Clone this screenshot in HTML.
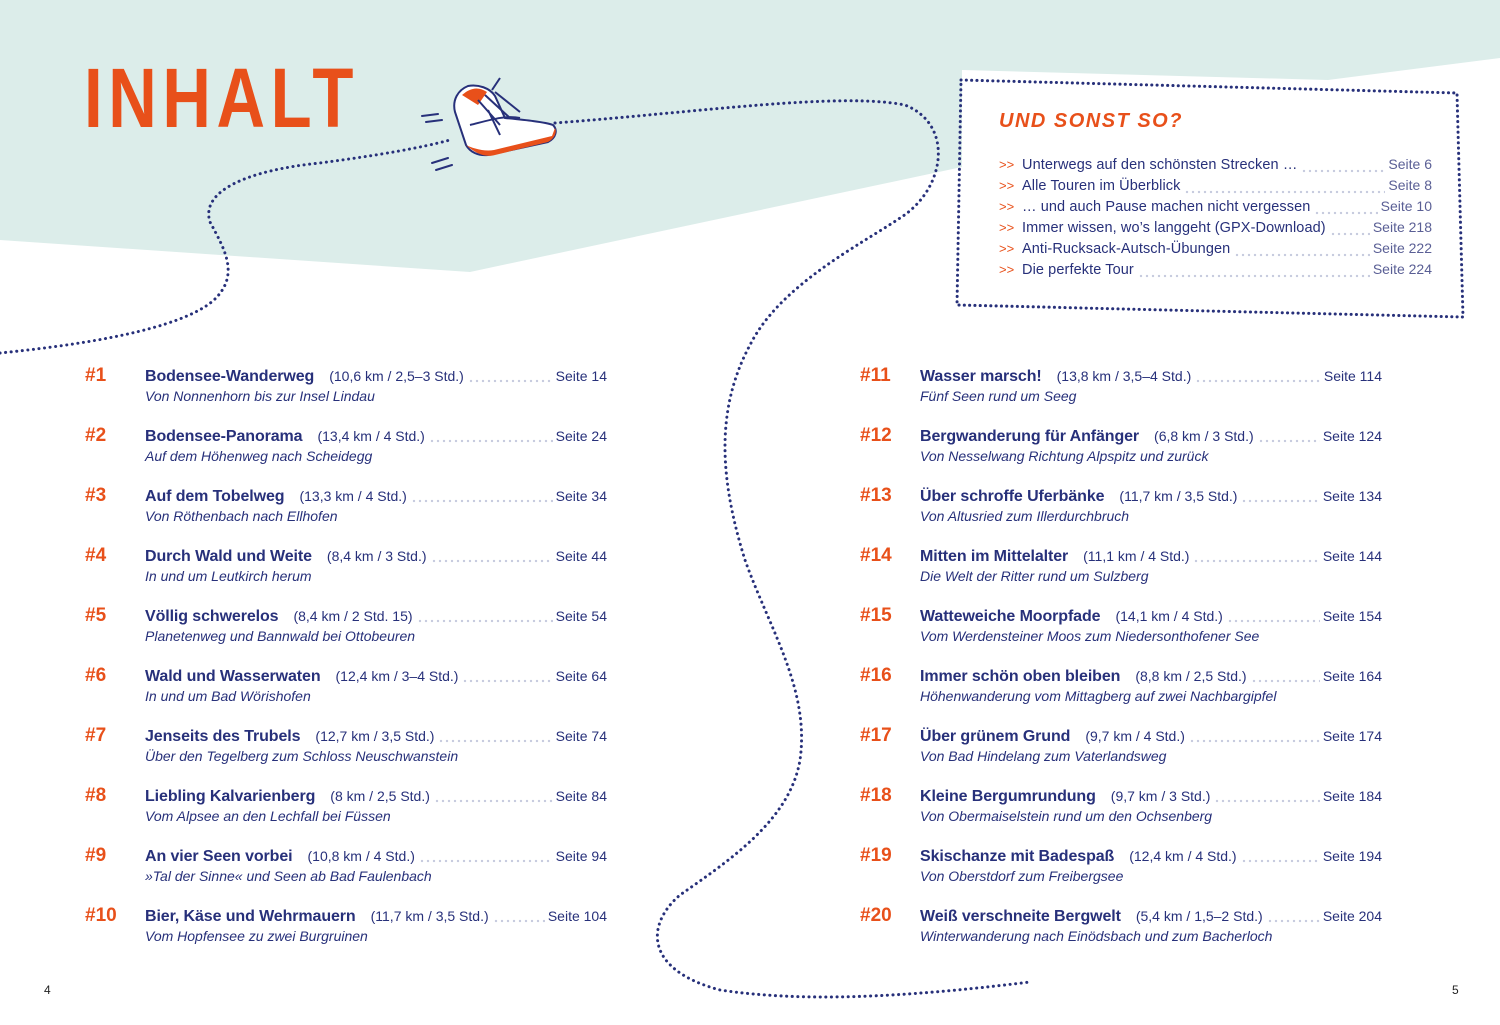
<!DOCTYPE html>
<html><head><meta charset="utf-8"><style>
*{margin:0;padding:0;box-sizing:border-box}
body{width:1500px;height:1025px;position:relative;overflow:hidden;background:#fff;font-family:"Liberation Sans",sans-serif;color:#27307a}
svg.bg{position:absolute;left:0;top:0}
.title{position:absolute;left:84px;top:48px;font-size:84px;font-weight:bold;color:#e8501a;letter-spacing:7px;transform:scaleX(0.8);transform-origin:left top;line-height:100px}
.r{position:absolute;width:522px}
.l{display:flex;align-items:baseline;height:22px;white-space:nowrap}
.n{width:60px;font-weight:bold;font-size:19px;color:#e8501a}
.t{font-size:16px;color:#27307a;font-weight:bold;letter-spacing:-0.1px}
.d{font-size:14px;margin-left:15px;color:#27307a}
.f{flex:1;height:4px;align-self:flex-end;margin:0 3px 4px 4px;background:radial-gradient(circle,#c3c8dc 0.9px,transparent 1.4px) 0 0/6px 4px repeat-x}
.s{font-size:14px;color:#27307a}
.sub{margin-left:60px;font-size:14px;font-style:italic;color:#27307a;margin-top:1px}
.b{position:absolute;left:999px;width:433px;display:flex;align-items:baseline;white-space:nowrap;font-size:14.5px;height:21px}
.b .c{color:#e8501a;width:23px;font-size:13px}
.b .t{font-size:14.5px;font-weight:normal;letter-spacing:0.1px}
.b .s{color:#5a5f95}
.h{position:absolute;left:999px;top:110px;font-size:20px;font-style:italic;font-weight:bold;color:#e8501a;letter-spacing:1.5px}
.pg{position:absolute;top:983px;font-size:12px;color:#222}
</style></head><body>
<svg class="bg" width="1500" height="1025">
<polygon points="0,0 1500,0 1500,58 1328,80 962,70 962,167 470,272 0,240" fill="#dcedea"/>
<path d="M0,353 C80,345 180,330 214,300 C240,275 225,250 210,222 C200,190 250,170 320,163 C380,155 420,148 450,140" fill="none" stroke="#27307a" stroke-width="3" stroke-dasharray="0.1 5.5" stroke-linecap="round"/>
<path d="M555,123 C700,112 840,92 905,105 C955,125 945,190 900,218 C860,245 780,285 750,345 C715,410 720,480 745,560 C770,630 810,690 800,760 C790,820 730,860 680,895 C645,925 645,970 720,990 C800,1002 900,998 1030,982" fill="none" stroke="#27307a" stroke-width="3" stroke-dasharray="0.1 5.5" stroke-linecap="round"/>
<path d="M961,80 L1457,93 L1463,317 L957,305 Z" fill="none" stroke="#27307a" stroke-width="3" stroke-dasharray="0.1 5.2" stroke-linecap="round"/>
<g stroke="#27307a" stroke-width="2" fill="none" stroke-linecap="round">
<path d="M422,116 L438,114 M426,122 L442,120 M432,163 L448,158 M436,170 L452,165"/>
</g>
<g>
<path d="M455,112 C452,100 458,90 468,86 C478,84 490,88 495,96 L505,118 C525,120 545,122 553,125 C558,130 556,138 548,142 L488,155 C478,156 470,152 466,145 Z" fill="#fff" stroke="#27307a" stroke-width="2"/>
<path d="M466,145 C475,153 485,158 495,155 L548,142 C555,138 557,132 555,128 L552,136 L494,150 C484,152 472,148 466,145 Z" fill="#e8501a"/>
<path d="M462,95 C470,88 478,86 487,92 L478,105 Z" fill="#e8501a"/>
<path d="M478,100 L500,125 M485,95 L510,118 M492,90 L500,78 M495,92 L520,112 M488,110 L500,135 M470,125 C490,120 505,115 520,118" stroke="#27307a" stroke-width="2" fill="none"/>
</g>
</svg>
<div class="title">INHALT</div>
<div class="h">UND SONST SO?</div>
<div class="b" style="top:156px"><span class="c">&gt;&gt;</span><span class="t">Unterwegs auf den schönsten Strecken …</span><span class="f"></span><span class="s">Seite 6</span></div>
<div class="b" style="top:177px"><span class="c">&gt;&gt;</span><span class="t">Alle Touren im Überblick</span><span class="f"></span><span class="s">Seite 8</span></div>
<div class="b" style="top:198px"><span class="c">&gt;&gt;</span><span class="t">… und auch Pause machen nicht vergessen</span><span class="f"></span><span class="s">Seite 10</span></div>
<div class="b" style="top:219px"><span class="c">&gt;&gt;</span><span class="t">Immer wissen, wo’s langgeht (GPX-Download)</span><span class="f"></span><span class="s">Seite 218</span></div>
<div class="b" style="top:240px"><span class="c">&gt;&gt;</span><span class="t">Anti-Rucksack-Autsch-Übungen</span><span class="f"></span><span class="s">Seite 222</span></div>
<div class="b" style="top:261px"><span class="c">&gt;&gt;</span><span class="t">Die perfekte Tour</span><span class="f"></span><span class="s">Seite 224</span></div>

<div class="r" style="left:85px;top:365px"><div class="l"><span class="n">#1</span><span class="t">Bodensee-Wanderweg</span><span class="d">(10,6 km / 2,5–3 Std.)</span><span class="f"></span><span class="s">Seite 14</span></div><div class="sub">Von Nonnenhorn bis zur Insel Lindau</div></div>
<div class="r" style="left:85px;top:425px"><div class="l"><span class="n">#2</span><span class="t">Bodensee-Panorama</span><span class="d">(13,4 km / 4 Std.)</span><span class="f"></span><span class="s">Seite 24</span></div><div class="sub">Auf dem Höhenweg nach Scheidegg</div></div>
<div class="r" style="left:85px;top:485px"><div class="l"><span class="n">#3</span><span class="t">Auf dem Tobelweg</span><span class="d">(13,3 km / 4 Std.)</span><span class="f"></span><span class="s">Seite 34</span></div><div class="sub">Von Röthenbach nach Ellhofen</div></div>
<div class="r" style="left:85px;top:545px"><div class="l"><span class="n">#4</span><span class="t">Durch Wald und Weite</span><span class="d">(8,4 km / 3 Std.)</span><span class="f"></span><span class="s">Seite 44</span></div><div class="sub">In und um Leutkirch herum</div></div>
<div class="r" style="left:85px;top:605px"><div class="l"><span class="n">#5</span><span class="t">Völlig schwerelos</span><span class="d">(8,4 km / 2 Std. 15)</span><span class="f"></span><span class="s">Seite 54</span></div><div class="sub">Planetenweg und Bannwald bei Ottobeuren</div></div>
<div class="r" style="left:85px;top:665px"><div class="l"><span class="n">#6</span><span class="t">Wald und Wasserwaten</span><span class="d">(12,4 km / 3–4 Std.)</span><span class="f"></span><span class="s">Seite 64</span></div><div class="sub">In und um Bad Wörishofen</div></div>
<div class="r" style="left:85px;top:725px"><div class="l"><span class="n">#7</span><span class="t">Jenseits des Trubels</span><span class="d">(12,7 km / 3,5 Std.)</span><span class="f"></span><span class="s">Seite 74</span></div><div class="sub">Über den Tegelberg zum Schloss Neuschwanstein</div></div>
<div class="r" style="left:85px;top:785px"><div class="l"><span class="n">#8</span><span class="t">Liebling Kalvarienberg</span><span class="d">(8 km / 2,5 Std.)</span><span class="f"></span><span class="s">Seite 84</span></div><div class="sub">Vom Alpsee an den Lechfall bei Füssen</div></div>
<div class="r" style="left:85px;top:845px"><div class="l"><span class="n">#9</span><span class="t">An vier Seen vorbei</span><span class="d">(10,8 km / 4 Std.)</span><span class="f"></span><span class="s">Seite 94</span></div><div class="sub">»Tal der Sinne« und Seen ab Bad Faulenbach</div></div>
<div class="r" style="left:85px;top:905px"><div class="l"><span class="n">#10</span><span class="t">Bier, Käse und Wehrmauern</span><span class="d">(11,7 km / 3,5 Std.)</span><span class="f"></span><span class="s">Seite 104</span></div><div class="sub">Vom Hopfensee zu zwei Burgruinen</div></div>

<div class="r" style="left:860px;top:365px"><div class="l"><span class="n">#11</span><span class="t">Wasser marsch!</span><span class="d">(13,8 km / 3,5–4 Std.)</span><span class="f"></span><span class="s">Seite 114</span></div><div class="sub">Fünf Seen rund um Seeg</div></div>
<div class="r" style="left:860px;top:425px"><div class="l"><span class="n">#12</span><span class="t">Bergwanderung für Anfänger</span><span class="d">(6,8 km / 3 Std.)</span><span class="f"></span><span class="s">Seite 124</span></div><div class="sub">Von Nesselwang Richtung Alpspitz und zurück</div></div>
<div class="r" style="left:860px;top:485px"><div class="l"><span class="n">#13</span><span class="t">Über schroffe Uferbänke</span><span class="d">(11,7 km / 3,5 Std.)</span><span class="f"></span><span class="s">Seite 134</span></div><div class="sub">Von Altusried zum Illerdurchbruch</div></div>
<div class="r" style="left:860px;top:545px"><div class="l"><span class="n">#14</span><span class="t">Mitten im Mittelalter</span><span class="d">(11,1 km / 4 Std.)</span><span class="f"></span><span class="s">Seite 144</span></div><div class="sub">Die Welt der Ritter rund um Sulzberg</div></div>
<div class="r" style="left:860px;top:605px"><div class="l"><span class="n">#15</span><span class="t">Watteweiche Moorpfade</span><span class="d">(14,1 km / 4 Std.)</span><span class="f"></span><span class="s">Seite 154</span></div><div class="sub">Vom Werdensteiner Moos zum Niedersonthofener See</div></div>
<div class="r" style="left:860px;top:665px"><div class="l"><span class="n">#16</span><span class="t">Immer schön oben bleiben</span><span class="d">(8,8 km / 2,5 Std.)</span><span class="f"></span><span class="s">Seite 164</span></div><div class="sub">Höhenwanderung vom Mittagberg auf zwei Nachbargipfel</div></div>
<div class="r" style="left:860px;top:725px"><div class="l"><span class="n">#17</span><span class="t">Über grünem Grund</span><span class="d">(9,7 km / 4 Std.)</span><span class="f"></span><span class="s">Seite 174</span></div><div class="sub">Von Bad Hindelang zum Vaterlandsweg</div></div>
<div class="r" style="left:860px;top:785px"><div class="l"><span class="n">#18</span><span class="t">Kleine Bergumrundung</span><span class="d">(9,7 km / 3 Std.)</span><span class="f"></span><span class="s">Seite 184</span></div><div class="sub">Von Obermaiselstein rund um den Ochsenberg</div></div>
<div class="r" style="left:860px;top:845px"><div class="l"><span class="n">#19</span><span class="t">Skischanze mit Badespaß</span><span class="d">(12,4 km / 4 Std.)</span><span class="f"></span><span class="s">Seite 194</span></div><div class="sub">Von Oberstdorf zum Freibergsee</div></div>
<div class="r" style="left:860px;top:905px"><div class="l"><span class="n">#20</span><span class="t">Weiß verschneite Bergwelt</span><span class="d">(5,4 km / 1,5–2 Std.)</span><span class="f"></span><span class="s">Seite 204</span></div><div class="sub">Winterwanderung nach Einödsbach und zum Bacherloch</div></div>

<div class="pg" style="left:44px">4</div>
<div class="pg" style="left:1452px">5</div>
</body></html>
